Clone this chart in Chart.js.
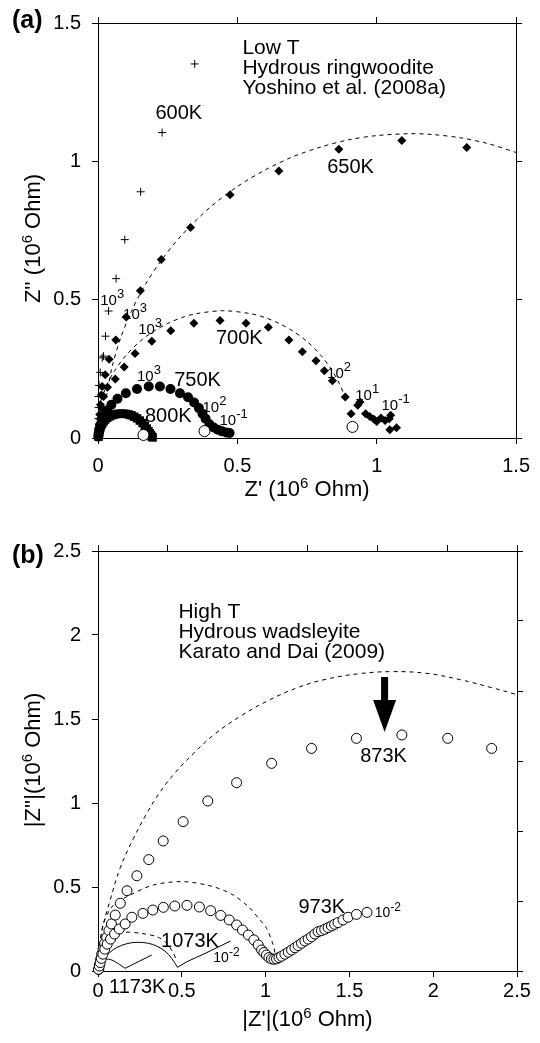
<!DOCTYPE html>
<html><head><meta charset="utf-8">
<script src="https://cdn.jsdelivr.net/npm/chart.js@4.4.0/dist/chart.umd.min.js"></script>
<style>
html,body{margin:0;padding:0;background:#fff;width:540px;height:1043px;overflow:hidden}
#ca{position:absolute;left:0;top:0;width:540px;height:510px}
#cb{position:absolute;left:0;top:510px;width:540px;height:533px}
</style></head><body>
<canvas id="ca" width="540" height="510"></canvas>
<canvas id="cb" width="540" height="533"></canvas>
<script>
// ---------- DATA (Z' , Z'' in 10^6 Ohm) ----------
// Panel (a) tick labels
const aXTicks = [0, 0.5, 1, 1.5];
const aYTicks = [0, 0.5, 1, 1.5];
// Panel (b) tick labels
const bXTicks = [0, 0.5, 1, 1.5, 2, 2.5];
const bYTicks = [0, 0.5, 1, 1.5, 2, 2.5];
const bFrameTicks = [0, 1, 2, 3, 4, 5, 6];

// (a) 600K crosses
const a600K = [[0.347,1.352],[0.23,1.104],[0.153,0.89],[0.096,0.717],[0.065,0.576],[0.038,0.459],[0.027,0.368],[0.02,0.296],[0.015,0.29],[0.008,0.237],[0.004,0.19],[0.002,0.15],[0.002,0.11],[0.001,0.07],[0.001,0.035]];
// (a) 650K diamonds
const a650K = [[0.002,0.02],[0.004,0.05],[0.006,0.085],[0.009,0.12],[0.012,0.155],[0.015,0.186],[0.026,0.229],[0.04,0.285],[0.064,0.354],[0.101,0.437],[0.152,0.532],[0.227,0.645],[0.332,0.761],[0.474,0.879],[0.649,0.965],[0.864,1.044],[1.09,1.075],[1.323,1.05]];
// (a) 700K diamonds
const a700K = [[0.004,0.03],[0.008,0.07],[0.012,0.11],[0.02,0.15],[0.034,0.183],[0.062,0.213],[0.094,0.257],[0.133,0.305],[0.193,0.35],[0.261,0.388],[0.344,0.415],[0.438,0.425],[0.531,0.415],[0.611,0.4],[0.685,0.354],[0.733,0.312],[0.782,0.279],[0.812,0.243],[0.841,0.207],[0.887,0.148],[0.908,0.088],[0.932,0.118],[0.94,0.13],[0.96,0.088],[0.975,0.078],[0.99,0.068],[1.0,0.06],[1.015,0.072],[1.03,0.063],[1.045,0.07],[1.05,0.082],[1.047,0.03],[1.071,0.037]];
// (a) 750K filled circles
const a750K = [[0.001,0.005],[0.002,0.015],[0.004,0.025],[0.006,0.035],[0.009,0.045],[0.013,0.056],[0.018,0.068],[0.025,0.082],[0.034,0.1],[0.048,0.12],[0.07,0.142],[0.1,0.162],[0.14,0.177],[0.182,0.186],[0.222,0.186],[0.26,0.177],[0.294,0.162],[0.323,0.147],[0.345,0.128],[0.362,0.108],[0.375,0.088],[0.386,0.07],[0.4,0.05],[0.415,0.038],[0.43,0.03],[0.445,0.024],[0.46,0.02],[0.472,0.018]];
// (a) 800K filled squares
const a800K = [[0.002,0.005],[0.003,0.012],[0.004,0.02],[0.006,0.028],[0.008,0.036],[0.011,0.044],[0.015,0.052],[0.02,0.06],[0.026,0.067],[0.033,0.073],[0.041,0.078],[0.05,0.082],[0.06,0.085],[0.07,0.087],[0.08,0.088],[0.09,0.088],[0.1,0.087],[0.11,0.085],[0.12,0.082],[0.13,0.077],[0.14,0.071],[0.15,0.063],[0.16,0.054],[0.168,0.044],[0.175,0.034],[0.181,0.025],[0.186,0.017],[0.19,0.01],[0.193,0.005],[0.196,0.002]];
// (a) open circles (low-frequency points)
const aOpen = [[0.163,0.011],[0.382,0.025],[0.913,0.04]];
// (a) dashed fits
const a650Fit = [[0.03,0.148],[0.05,0.255],[0.08,0.358],[0.12,0.458],[0.17,0.555],[0.23,0.646],[0.3,0.733],[0.4,0.832],[0.5,0.909],[0.6,0.969],[0.7,1.017],[0.8,1.052],[0.9,1.078],[1.0,1.093],[1.12,1.1],[1.2,1.097],[1.3,1.085],[1.4,1.064],[1.5,1.032]];
const a700Fit = [[0.01,0.134],[0.03,0.188],[0.06,0.244],[0.1,0.298],[0.15,0.349],[0.2,0.386],[0.25,0.414],[0.3,0.435],[0.35,0.449],[0.45,0.46],[0.55,0.449],[0.6,0.435],[0.65,0.414],[0.7,0.386],[0.75,0.349],[0.8,0.298],[0.84,0.244],[0.87,0.188],[0.885,0.15]];

// (b) 873K open circles
const b873K = [[0.005,0.01],[0.01,0.04],[0.016,0.07],[0.022,0.1],[0.03,0.13],[0.04,0.165],[0.052,0.2],[0.065,0.24],[0.08,0.28],[0.103,0.333],[0.133,0.403],[0.173,0.478],[0.232,0.567],[0.303,0.663],[0.389,0.774],[0.508,0.889],[0.655,1.012],[0.827,1.121],[1.036,1.236],[1.274,1.325],[1.542,1.385],[1.813,1.405],[2.087,1.385],[2.349,1.325]];
// (b) 973K open circles
const b973K = [[0.003,0.01],[0.008,0.03],[0.013,0.05],[0.02,0.075],[0.029,0.1],[0.04,0.13],[0.055,0.16],[0.075,0.19],[0.099,0.22],[0.127,0.25],[0.162,0.28],[0.202,0.32],[0.268,0.343],[0.327,0.363],[0.39,0.379],[0.458,0.387],[0.531,0.391],[0.605,0.381],[0.672,0.359],[0.732,0.331],[0.783,0.304],[0.827,0.274],[0.862,0.244],[0.897,0.214],[0.93,0.185],[0.956,0.155],[0.976,0.125],[0.99,0.11],[1.005,0.095],[1.02,0.08],[1.035,0.072],[1.05,0.07],[1.065,0.072],[1.08,0.08],[1.095,0.088],[1.115,0.1],[1.135,0.112],[1.155,0.125],[1.175,0.138],[1.194,0.151],[1.214,0.165],[1.234,0.179],[1.254,0.19],[1.274,0.204],[1.294,0.22],[1.313,0.234],[1.333,0.24],[1.353,0.248],[1.373,0.258],[1.393,0.268],[1.412,0.278],[1.432,0.288],[1.462,0.304],[1.492,0.32],[1.542,0.337],[1.605,0.349]];
// (b) dashed fits
const b873Fit = [[0.005,0.1],[0.024,0.244],[0.073,0.423],[0.133,0.615],[0.212,0.79],[0.292,0.94],[0.37,1.065],[0.46,1.18],[0.57,1.295],[0.69,1.405],[0.847,1.515],[1.026,1.615],[1.2,1.69],[1.363,1.737],[1.561,1.77],[1.76,1.782],[1.958,1.772],[2.157,1.735],[2.355,1.685],[2.5,1.645]];
const b973Fit = [[0.01,0.15],[0.033,0.284],[0.09,0.39],[0.192,0.452],[0.331,0.512],[0.51,0.532],[0.688,0.502],[0.807,0.452],[0.9,0.38],[0.966,0.304],[1.006,0.254],[1.045,0.155],[1.065,0.065]];
const b1073Fit = [[0.015,0.15],[0.074,0.224],[0.152,0.232],[0.25,0.225],[0.351,0.204],[0.41,0.165],[0.45,0.105],[0.465,0.07]];
// (b) solid model curves
const b1073Arc = [[0.005,0.04],[0.033,0.075],[0.07,0.11],[0.113,0.14],[0.17,0.162],[0.232,0.171],[0.3,0.165],[0.351,0.148],[0.4,0.118],[0.44,0.075],[0.474,0.022]];
const b1073Tail = [[0.474,0.022],[0.53,0.055],[0.65,0.11],[0.79,0.178]];
const b1173Arc = [[0.0,0.02],[0.012,0.045],[0.03,0.063],[0.05,0.07],[0.075,0.068],[0.103,0.055],[0.13,0.038],[0.162,0.016]];
const b1173Tail = [[0.162,0.016],[0.24,0.055],[0.321,0.095]];

// ---------- helpers ----------
const F = "'Liberation Sans', Arial, Helvetica, sans-serif";
Chart.defaults.font.family = F;
Chart.defaults.color = '#000';
const pts = arr => arr.map(p => ({x: p[0], y: p[1]}));

function edgeScale(position, min, max, ticksArr, showLabels, size, pad) {
  const isX = position === 'top' || position === 'bottom';
  return {
    type: 'linear', position, min, max,
    afterBuildTicks: s => { s.ticks = ticksArr.map(v => ({value: v})); },
    ticks: {display: showLabels, font: {size: 20}, color: '#000', padding: pad, autoSkip: false, maxRotation: 0, callback: v => String(v)},
    grid: {display: true, drawOnChartArea: false, drawTicks: true, tickLength: 6, color: '#000', lineWidth: 1},
    border: {display: true, color: '#000', width: 1},
    afterFit: s => { if (isX) s.height = size; else s.width = size; }
  };
}

function rich(ctx, parts, x, y, align, weight) {
  let w = 0;
  const ws = parts.map(p => { ctx.font = (weight || '') + ' ' + p[1] + 'px ' + F; const m = ctx.measureText(p[0]).width; w += m; return m; });
  let cx = align === 'center' ? x - w / 2 : align === 'right' ? x - w : x;
  ctx.textAlign = 'left'; ctx.textBaseline = 'alphabetic';
  parts.forEach((p, i) => { ctx.font = (weight || '') + ' ' + p[1] + 'px ' + F; ctx.fillText(p[0], cx, y - (p[2] || 0)); cx += ws[i]; });
}

const notes = {
  id: 'notes',
  afterDraw(chart, args, o) {
    const ctx = chart.ctx, xs = chart.scales.x, ys = chart.scales.y, ca = chart.chartArea;
    ctx.save();
    ctx.fillStyle = '#000';
    (o.texts || []).forEach(t => rich(ctx, t.parts, xs.getPixelForValue(t.x), ys.getPixelForValue(t.y), t.align));
    // axis titles
    rich(ctx, o.xTitle, (ca.left + ca.right) / 2, ca.bottom + o.xTitleOff, 'center');
    ctx.save();
    ctx.translate(o.yTitleX, (ca.top + ca.bottom) / 2 + o.yTitleDy);
    ctx.rotate(-Math.PI / 2);
    rich(ctx, o.yTitle, 0, 0, 'center');
    ctx.restore();
    // panel letter
    rich(ctx, [[o.letter, 25, 0]], 12, o.letterY, 'left', 'bold');
    // arrow
    if (o.arrow) {
      const ax = xs.getPixelForValue(o.arrow.x), y0 = ys.getPixelForValue(o.arrow.y0), y1 = ys.getPixelForValue(o.arrow.y1);
      const hl = 32, sw = 3.5, hw = 11.5;
      ctx.beginPath();
      ctx.moveTo(ax - sw, y0); ctx.lineTo(ax + sw, y0); ctx.lineTo(ax + sw, y1 - hl);
      ctx.lineTo(ax + hw, y1 - hl); ctx.lineTo(ax, y1); ctx.lineTo(ax - hw, y1 - hl);
      ctx.lineTo(ax - sw, y1 - hl); ctx.closePath();
      ctx.fill();
    }
    ctx.restore();
  }
};

const sup = (b, e, bs, es, r) => [['10', bs, 0], [e, es, r]];
const commonOpts = {
  responsive: false, animation: false, devicePixelRatio: 1,
  layout: {padding: 0},
};

// ---------- Chart (a) ----------
new Chart(document.getElementById('ca'), {
  type: 'scatter',
  data: {datasets: [
    {data: pts(aOpen), pointStyle: 'circle', pointRadius: 5.5, backgroundColor: '#fff', borderColor: '#000', borderWidth: 1, clip: 10},
    {data: pts(a600K), pointStyle: 'cross', pointRadius: 4, borderColor: '#000', borderWidth: 1, clip: 10},
    {data: pts(a650K), pointStyle: 'rectRot', pointRadius: 4.5, backgroundColor: '#000', borderColor: '#000', borderWidth: 0, clip: 10},
    {data: pts(a700K), pointStyle: 'rectRot', pointRadius: 4.5, backgroundColor: '#000', borderColor: '#000', borderWidth: 0, clip: 10},
    {data: pts(a750K), pointStyle: 'circle', pointRadius: 5, backgroundColor: '#000', borderColor: '#000', borderWidth: 0, clip: 10},
    {data: pts(a800K), pointStyle: 'rect', pointRadius: 6, backgroundColor: '#000', borderColor: '#000', borderWidth: 0, clip: 10},
    {data: pts(a650Fit), showLine: true, pointRadius: 0, borderColor: '#000', borderWidth: 1, borderDash: [4, 4], tension: 0.3, clip: 10},
    {data: pts(a700Fit), showLine: true, pointRadius: 0, borderColor: '#000', borderWidth: 1, borderDash: [4, 4], tension: 0.3, clip: 10}
  ]},
  options: Object.assign({}, commonOpts, {
    scales: {
      x: edgeScale('bottom', 0, 1.5, aXTicks, true, 72, 10),
      x2: edgeScale('top', 0, 1.5, aXTicks, false, 18, 0),
      y: edgeScale('left', 0, 1.5, aYTicks, true, 98, 11),
      y2: edgeScale('right', 0, 1.5, aYTicks, false, 22, 0)
    },
    plugins: {
      legend: {display: false}, tooltip: {enabled: false},
      notes: {
        letter: '(a)', letterY: 28,
        xTitle: [["Z' (10", 22, 0], ['6', 15, 8], [' Ohm)', 22, 0]], xTitleOff: 58,
        yTitle: [["Z'' (10", 22, 0], ['6', 15, 8], [' Ohm)', 22, 0]], yTitleX: 40, yTitleDy: 8,
        texts: [
          {x: 0.518, y: 1.389, parts: [['Low T', 21]], align: 'left'},
          {x: 0.518, y: 1.314, parts: [['Hydrous ringwoodite', 21]], align: 'left'},
          {x: 0.518, y: 1.243, parts: [['Yoshino et al. (2008a)', 21]], align: 'left'},
          {x: 0.29, y: 1.154, parts: [['600K', 20]], align: 'center'},
          {x: 0.906, y: 0.957, parts: [['650K', 20]], align: 'center'},
          {x: 0.507, y: 0.339, parts: [['700K', 20]], align: 'center'},
          {x: 0.357, y: 0.189, parts: [['750K', 20]], align: 'center'},
          {x: 0.252, y: 0.058, parts: [['800K', 20]], align: 'center'},
          {x: 0.008, y: 0.482, parts: sup('10', '3', 15, 13, 7), align: 'left'},
          {x: 0.09, y: 0.429, parts: sup('10', '3', 15, 13, 7), align: 'left'},
          {x: 0.144, y: 0.375, parts: sup('10', '3', 15, 13, 7), align: 'left'},
          {x: 0.14, y: 0.207, parts: sup('10', '3', 15, 13, 7), align: 'left'},
          {x: 0.375, y: 0.093, parts: sup('10', '2', 15, 13, 7), align: 'left'},
          {x: 0.436, y: 0.046, parts: sup('10', '-1', 15, 13, 7), align: 'left'},
          {x: 0.822, y: 0.218, parts: sup('10', '2', 15, 13, 7), align: 'left'},
          {x: 0.923, y: 0.136, parts: sup('10', '1', 15, 13, 7), align: 'left'},
          {x: 1.017, y: 0.1, parts: sup('10', '-1', 15, 13, 7), align: 'left'}
        ]
      }
    }
  }),
  plugins: [notes]
});

// ---------- Chart (b) ----------
new Chart(document.getElementById('cb'), {
  type: 'scatter',
  data: {datasets: [
    {data: pts(b973K), pointStyle: 'circle', pointRadius: 5, backgroundColor: '#fff', borderColor: '#000', borderWidth: 1, clip: 10},
    {data: pts(b873K), pointStyle: 'circle', pointRadius: 5, backgroundColor: '#fff', borderColor: '#000', borderWidth: 1, clip: 10},
    {data: pts(b873Fit), showLine: true, pointRadius: 0, borderColor: '#000', borderWidth: 1, borderDash: [4, 4], tension: 0.4, clip: 10},
    {data: pts(b973Fit), showLine: true, pointRadius: 0, borderColor: '#000', borderWidth: 1, borderDash: [4, 4], tension: 0.3, clip: 10},
    {data: pts(b1073Fit), showLine: true, pointRadius: 0, borderColor: '#000', borderWidth: 1, borderDash: [4, 4], tension: 0.3, clip: 10},
    {data: pts(b1073Arc), showLine: true, pointRadius: 0, borderColor: '#000', borderWidth: 1, tension: 0.35, clip: 10},
    {data: pts(b1073Tail), showLine: true, pointRadius: 0, borderColor: '#000', borderWidth: 1, tension: 0, clip: 10},
    {data: pts(b1173Arc), showLine: true, pointRadius: 0, borderColor: '#000', borderWidth: 1, tension: 0.35, clip: 10},
    {data: pts(b1173Tail), showLine: true, pointRadius: 0, borderColor: '#000', borderWidth: 1, tension: 0, clip: 10}
  ]},
  options: Object.assign({}, commonOpts, {
    scales: {
      x: edgeScale('bottom', 0, 2.5, bXTicks, true, 72, 2),
      x2: edgeScale('top', 0, 6, bFrameTicks, false, 41, 0),
      y: edgeScale('left', 0, 2.5, bYTicks, true, 98, 11),
      y2: edgeScale('right', 0, 6, bFrameTicks, false, 23, 0)
    },
    plugins: {
      legend: {display: false}, tooltip: {enabled: false},
      notes: {
        letter: '(b)', letterY: 53,
        xTitle: [["|Z'|(10", 22, 0], ['6', 15, 8], [' Ohm)', 22, 0]], xTitleOff: 55,
        yTitle: [["|Z''|(10", 22, 0], ['6', 15, 8], [' Ohm)', 22, 0]], yTitleX: 40, yTitleDy: -1,
        arrow: {x: 1.71, y0: 1.75, y1: 1.423},
        texts: [
          {x: 0.48, y: 2.101, parts: [['High T', 21]], align: 'left'},
          {x: 0.48, y: 1.982, parts: [['Hydrous wadsleyite', 21]], align: 'left'},
          {x: 0.48, y: 1.863, parts: [['Karato and Dai (2009)', 21]], align: 'left'},
          {x: 1.704, y: 1.246, parts: [['873K', 20]], align: 'center'},
          {x: 1.335, y: 0.345, parts: [['973K', 20]], align: 'center'},
          {x: 1.651, y: 0.321, parts: sup('10', '-2', 14, 12, 6), align: 'left'},
          {x: 0.549, y: 0.145, parts: [['1073K', 20]], align: 'center'},
          {x: 0.688, y: 0.055, parts: sup('10', '-2', 14, 12, 6), align: 'left'},
          {x: 0.234, y: -0.131, parts: [['1173K', 20]], align: 'center'}
        ]
      }
    }
  }),
  plugins: [notes]
});
</script>
</body></html>
